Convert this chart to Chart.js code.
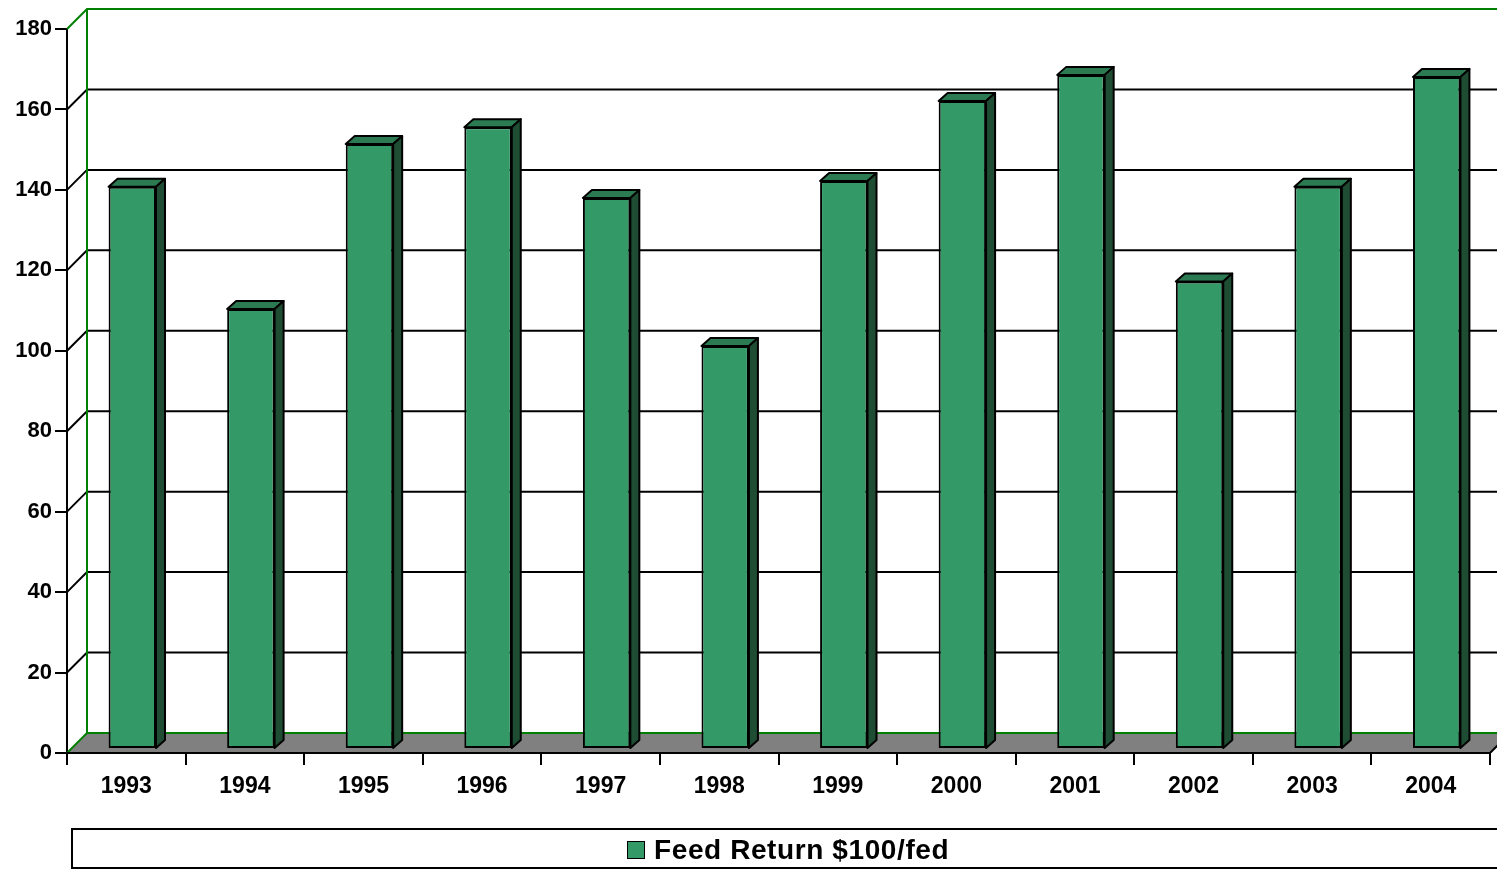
<!DOCTYPE html>
<html>
<head>
<meta charset="utf-8">
<title>Feed Return</title>
<script src="https://cdn.jsdelivr.net/npm/chart.js@4.4.1/dist/chart.umd.min.js"></script>
<style>
  html, body { margin: 0; padding: 0; background: #fff; }
  canvas { display: block; }
</style>
</head>
<body>
<canvas id="chart" width="1497" height="870"></canvas>
<script>
// Feed return per year, $ per 100 lb fed
const years = ['1993', '1994', '1995', '1996', '1997', '1998', '1999', '2000', '2001', '2002', '2003', '2004'];
const feedReturn = [139.8, 109.4, 150.4, 154.6, 137.0, 100.2, 141.2, 161.1, 167.6, 116.2, 139.8, 167.1];
const yTicks = [0, 20, 40, 60, 80, 100, 120, 140, 160, 180];
const seriesLabel = 'Feed Return $100/fed';

const FONT = '"Liberation Sans", Arial, sans-serif';
const GREEN = '#008000';
const FRONT = '#339966';
const TOP = '#2b7a52';
const SIDE = '#1f4d33';

// wall depth and bar offset/depth
const WALL_DX = 20, WALL_DY = 20;
const BAR_OX = 6, BAR_OY = 4;
const BAR_DX = 9, BAR_DY = 8;

const walls = {
  id: 'walls',
  beforeDatasetsDraw(chart) {
    const { ctx, chartArea: a, scales: { y } } = chart;
    const far = chart.width + 40;
    ctx.save();
    // floor
    ctx.fillStyle = '#808080';
    ctx.beginPath();
    ctx.moveTo(a.left, a.bottom);
    ctx.lineTo(a.right, a.bottom);
    ctx.lineTo(a.right + WALL_DX, a.bottom - WALL_DY);
    ctx.lineTo(a.left + WALL_DX, a.bottom - WALL_DY);
    ctx.closePath();
    ctx.fill();

    // gridlines on side wall and back wall
    yTicks.forEach(v => {
      const py = y.getPixelForValue(v);
      const edge = v === 0 || v === yTicks[yTicks.length - 1];
      ctx.strokeStyle = edge ? GREEN : '#000';
      ctx.lineWidth = 2;
      ctx.beginPath();
      ctx.moveTo(a.left, py);
      ctx.lineTo(a.left + WALL_DX, py - WALL_DY);
      ctx.lineTo(far, py - WALL_DY);
      ctx.stroke();
    });

    // back corner of the walls
    ctx.strokeStyle = GREEN;
    ctx.lineWidth = 2;
    ctx.beginPath();
    ctx.moveTo(a.left + WALL_DX, a.top - WALL_DY);
    ctx.lineTo(a.left + WALL_DX, a.bottom - WALL_DY);
    ctx.stroke();

    // front floor edge and right end
    ctx.strokeStyle = '#000';
    ctx.lineWidth = 2;
    ctx.beginPath();
    ctx.moveTo(a.left, a.bottom);
    ctx.lineTo(a.right, a.bottom);
    ctx.lineTo(a.right + WALL_DX, a.bottom - WALL_DY);
    ctx.stroke();
    ctx.restore();
  },
  beforeDatasetDraw(chart) {
    chart.ctx.save();
    chart.ctx.translate(BAR_OX, -BAR_OY);
  },
  afterDatasetDraw(chart, args) {
    const ctx = chart.ctx;
    const meta = chart.getDatasetMeta(args.index);
    ctx.lineWidth = 2;
    ctx.strokeStyle = '#000';
    ctx.lineJoin = 'round';
    meta.data.forEach(bar => {
      const { x, y, base, width } = bar.getProps(['x', 'y', 'base', 'width'], true);
      const l = x - width / 2, r = x + width / 2;
      // top face
      ctx.fillStyle = TOP;
      ctx.beginPath();
      ctx.moveTo(l, y);
      ctx.lineTo(l + BAR_DX, y - BAR_DY);
      ctx.lineTo(r + BAR_DX, y - BAR_DY);
      ctx.lineTo(r, y);
      ctx.closePath();
      ctx.fill();
      ctx.stroke();
      // side face
      ctx.fillStyle = SIDE;
      ctx.beginPath();
      ctx.moveTo(r, y);
      ctx.lineTo(r + BAR_DX, y - BAR_DY);
      ctx.lineTo(r + BAR_DX, base - BAR_DY);
      ctx.lineTo(r, base);
      ctx.closePath();
      ctx.fill();
      ctx.stroke();
    });
    ctx.restore();
  },
  afterDraw(chart) {
    // legend box under the axis
    const ctx = chart.ctx;
    const ds = chart.data.datasets[0];
    ctx.save();
    ctx.strokeStyle = '#000';
    ctx.lineWidth = 2;
    ctx.strokeRect(72, 829, 1440, 39);
    ctx.fillStyle = ds.backgroundColor;
    ctx.fillRect(627, 841, 18, 18);
    ctx.lineWidth = 1;
    ctx.strokeRect(627.5, 841.5, 17, 17);
    ctx.fillStyle = '#000';
    ctx.font = 'bold 28px ' + FONT;
    ctx.letterSpacing = '0.6px';
    ctx.textBaseline = 'middle';
    ctx.fillText(ds.label, 654, 851);
    ctx.restore();
  }
};

new Chart(document.getElementById('chart'), {
  type: 'bar',
  data: {
    labels: years,
    datasets: [{
      label: seriesLabel,
      data: feedReturn,
      backgroundColor: FRONT,
      borderColor: '#000',
      borderWidth: 2,
      borderSkipped: false,
      categoryPercentage: 1,
      barPercentage: 0.4,
      clip: false
    }]
  },
  options: {
    responsive: false,
    devicePixelRatio: 1,
    animation: false,
    events: [],
    layout: { padding: { top: 29, right: 7, left: 0, bottom: 0 } },
    plugins: {
      legend: { display: false },
      tooltip: { enabled: false }
    },
    scales: {
      x: {
        grid: { offset: true, drawOnChartArea: false, tickLength: 12, color: '#000', lineWidth: 2 },
        border: { color: '#000', width: 2 },
        ticks: { color: '#000', padding: 8, maxRotation: 0, font: { family: FONT, size: 23, weight: 'bold' } },
        afterFit(scale) { scale.height = 117; }
      },
      y: {
        min: 0,
        max: 180,
        afterBuildTicks(scale) { scale.ticks = yTicks.map(v => ({ value: v })); },
        grid: { drawOnChartArea: false, tickLength: 12, color: '#000', lineWidth: 2 },
        border: { color: '#000', width: 2 },
        ticks: { color: '#000', padding: 3, font: { family: FONT, size: 22, weight: 'bold' } },
        afterFit(scale) { scale.width = 67; }
      }
    }
  },
  plugins: [walls]
});
</script>
</body>
</html>
